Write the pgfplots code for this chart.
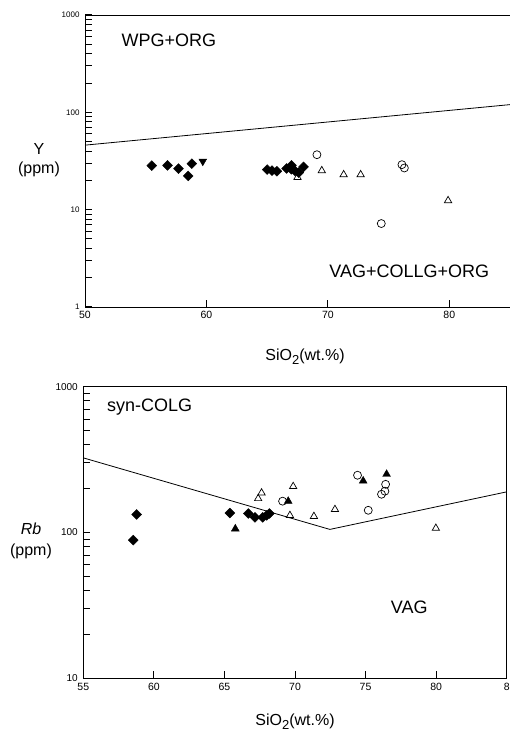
\documentclass[border=0pt]{standalone}
\usepackage{pgfplots}
\pgfplotsset{compat=1.18}
\usepackage{fontspec}
\setmainfont{Liberation Sans}
\begin{document}
\begin{tikzpicture}
\useasboundingbox (0,0) rectangle (510pt,733pt);
\pgfplotsset{
  dia/.style={only marks, mark=square*, mark size=3.5pt, mark options={rotate=45, fill=black}},
  otri/.style={only marks, mark=triangle, mark size=4.2pt, mark options={line width=0.7pt}},
  ftri/.style={only marks, mark=triangle*, mark size=4.5pt, mark options={fill=black}},
  dtri/.style={only marks, mark=triangle*, mark size=4.5pt, mark options={rotate=180, fill=black}},
  ocirc/.style={only marks, mark=o, mark size=4pt, mark options={line width=0.7pt}},
  myaxis/.style={
    scale only axis, anchor=south west,
    axis line style={line width=0.9pt},
    /pgf/number format/assume math mode=true,
    tick pos=left,
    tick align=inside,
    major tick length=7pt,
    tick style={line width=1pt, black},
    xticklabel style={font=\fontsize{10.5}{10.5}\selectfont, yshift=-1pt},
    yticklabel style={xshift=-2pt},
    clip=false,
  },
}
% ---------- top: Y vs SiO2 ----------
\begin{axis}[myaxis,
  at={(85pt,426pt)}, width=425pt, height=292pt,
  xmin=50, xmax=85, ymode=log, ymin=1, ymax=1000,
  xtick={50,60,70,80},
  ytick={1,2,3,4,5,6,7,8,9,10,20,30,40,50,60,70,80,90,100,200,300,400,500,600,700,800,900,1000},
  yticklabels={1,,,,,,,,,10,,,,,,,,,100,,,,,,,,,1000},
  yticklabel style={font=\fontsize{8}{8}\selectfont},
]
\addplot[black, line width=0.8pt] coordinates {(50,46) (85,120)};
\addplot[dia] coordinates {(55.5,28.3) (56.8,28.5) (57.7,26.4) (58.5,22.2) (58.8,29.7)
  (65.0,25.8) (65.4,25.2) (65.8,24.8) (66.6,26.5) (67.0,28.5) (67.3,25.0) (67.6,24.0) (68.0,27.5) (67.0,26.0)};
\addplot[dtri] coordinates {(59.7,31.4)};
\addplot[otri] coordinates {(67.5,21.5) (69.5,25.2) (71.3,22.9) (72.7,22.9) (79.9,12.4)};
\addplot[ocirc] coordinates {(69.1,36.7) (74.4,7.2) (76.1,29.0) (76.3,26.8)};
\node[font=\fontsize{18}{18}\selectfont] at (axis cs:56.9,555) {WPG+ORG};
\node[font=\fontsize{18}{18}\selectfont] at (axis cs:76.7,2.34) {VAG+COLLG+ORG};
\end{axis}
% ---------- bottom: Rb vs SiO2 ----------
\begin{axis}[myaxis,
  at={(83.3pt,54.7pt)}, width=423.4pt, height=291.6pt,
  xmin=55, xmax=85, ymode=log, ymin=10, ymax=1000,
  xtick={55,60,65,70,75,80,85}, xticklabels={55,60,65,70,75,80,8},
  ytick={10,20,30,40,50,60,70,80,90,100,200,300,400,500,600,700,800,900,1000},
  yticklabels={10,,,,,,,,,100,,,,,,,,,1000},
  yticklabel style={font=\fontsize{10}{10}\selectfont},
]
\addplot[black, line width=0.8pt] coordinates {(55,325) (72.47,105) (85,190)};
\addplot[dia] coordinates {(58.78,133) (58.54,88.6) (65.39,136) (66.69,135) (67.16,127) (67.71,127) (67.99,131) (68.18,135)};
\addplot[ftri] coordinates {(65.77,106) (74.83,226) (76.49,251) (69.52,164)};
\addplot[otri] coordinates {(67.39,171) (67.63,187) (69.87,207) (69.64,131) (71.34,129) (72.83,144) (79.98,107)};
\addplot[ocirc] coordinates {(69.12,164) (74.43,247) (75.19,142) (76.42,214) (76.37,192) (76.13,183)};
\addplot[only marks, mark=o, mark size=1.5pt, mark options={line width=0.5pt, fill=white}] coordinates {(66.93,131)};
\node[font=\fontsize{18}{18}\selectfont] at (axis cs:59.7,725) {syn-COLG};
\node[font=\fontsize{18}{18}\selectfont] at (axis cs:78.1,30.5) {VAG};
\end{axis}
% axis labels
\node[align=center, font=\fontsize{16}{19}\selectfont] at (39pt,573pt) {Y\\(ppm)};
\node[align=center, font=\fontsize{16}{21}\selectfont] at (31pt,192pt) {\textit{Rb}\\(ppm)};
\node[font=\fontsize{16}{16}\selectfont] at (305pt,376pt) {SiO\raisebox{-0.45ex}{\fontsize{13}{13}\selectfont 2}(wt.\%)};
\node[font=\fontsize{16}{16}\selectfont] at (295pt,11.3pt) {SiO\raisebox{-0.45ex}{\fontsize{13}{13}\selectfont 2}(wt.\%)};
\end{tikzpicture}
\end{document}
